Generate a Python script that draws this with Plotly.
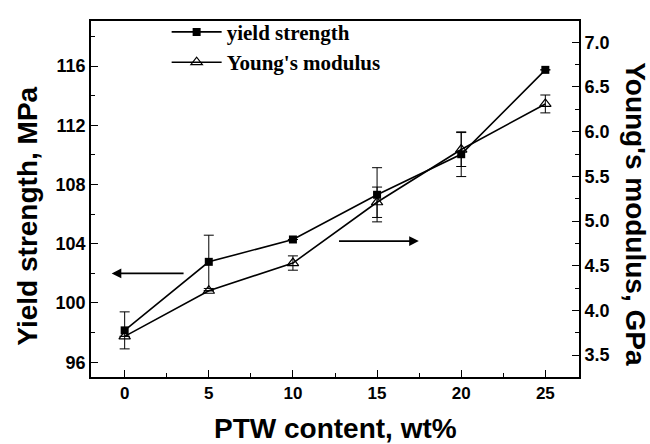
import plotly.graph_objects as go

# ---- data ----
ptw_content = [0, 5, 10, 15, 20, 25]
yield_strength = [98.15, 102.78, 104.29, 107.31, 110.05, 115.75]
yield_err = [1.25, 1.8, None, 1.83, 1.51, None]
youngs_modulus = [3.71, 4.22, 4.53, 5.21, 5.80, 6.31]
youngs_err = [None, None, 0.08, 0.17, 0.19, 0.10]

x_ticks = [0, 5, 10, 15, 20, 25]
left_ticks = [96, 100, 104, 108, 112, 116]
right_ticks = [3.5, 4.0, 4.5, 5.0, 5.5, 6.0, 6.5, 7.0]

SANS = "Liberation Sans"
SERIF = "Liberation Serif"

fig = go.Figure()
fig.add_trace(go.Scatter(
    x=ptw_content, y=yield_strength, name="yield strength",
    mode="lines+markers",
    line=dict(color="black", width=1.6),
    marker=dict(symbol="square", size=8, color="black"),
    error_y=dict(type="data", array=yield_err, visible=True, color="black", thickness=1, width=5),
    legendgroup="a", yaxis="y",
))
fig.add_trace(go.Scatter(
    x=ptw_content, y=youngs_modulus, name="Young's modulus",
    mode="lines+markers",
    line=dict(color="black", width=1.6),
    marker=dict(symbol="triangle-up-open", size=10, color="black", line=dict(width=1.2, color="black")),
    error_y=dict(type="data", array=youngs_err, visible=True, color="black", thickness=1, width=5),
    legendgroup="b", yaxis="y2",
))

xtickfont = dict(family=SANS, size=17, color="black", weight="bold")
ytickfont = dict(family=SANS, size=18, color="black", weight="bold")

fig.update_layout(
    width=650, height=444,
    margin=dict(l=91, r=71, t=14, b=67),
    paper_bgcolor="white", plot_bgcolor="white",
    showlegend=True,
    legend=dict(
        x=0.155, y=1.026, xanchor="left", yanchor="top",
        bgcolor="rgba(0,0,0,0)", borderwidth=0,
        font=dict(family=SERIF, size=21, color="black", weight="bold"),
        traceorder="grouped", tracegroupgap=0, itemwidth=50,
    ),
    xaxis=dict(
        range=[-2, 27], tickmode="array", tickvals=x_ticks,
        ticks="inside", ticklen=7, tickwidth=1.3, tickcolor="black",
        showline=True, linecolor="black", linewidth=1.6, mirror=True,
        showgrid=False, zeroline=False, tickfont=xtickfont,
        minor=dict(tickmode="array", tickvals=[2.5, 7.5, 12.5, 17.5, 22.5], ticks="inside", ticklen=4, tickwidth=1.3, tickcolor="black", showgrid=False),
    ),
    yaxis=dict(
        range=[95.0, 119.05], tickmode="array", tickvals=left_ticks,
        ticks="inside", ticklen=7, tickwidth=1.3, tickcolor="black",
        showline=True, linecolor="black", linewidth=1.6,
        showgrid=False, zeroline=False, tickfont=ytickfont,
        minor=dict(tickmode="array", tickvals=[98, 102, 106, 110, 114, 118], ticks="inside", ticklen=4, tickwidth=1.3, tickcolor="black", showgrid=False),
    ),
    yaxis2=dict(
        range=[3.255, 7.238], tickmode="array", tickvals=right_ticks,
        tickformat=".1f", overlaying="y", side="right",
        ticks="inside", ticklen=7, tickwidth=1.3, tickcolor="black",
        showline=True, linecolor="black", linewidth=1.6,
        showgrid=False, zeroline=False, tickfont=ytickfont,
        minor=dict(tickmode="array", tickvals=[3.75, 4.25, 4.75, 5.25, 5.75, 6.25, 6.75], ticks="inside", ticklen=4, tickwidth=1.3, tickcolor="black", showgrid=False),
    ),
)

titlefont = dict(family=SANS, size=28, color="black", weight="bold")
fig.add_annotation(text="Yield strength, MPa", xref="paper", yref="paper",
                   x=-0.13, y=0.452, xanchor="center", yanchor="middle",
                   textangle=-90, showarrow=False, font=titlefont)
fig.add_annotation(text="Young's modulus, GPa", xref="paper", yref="paper",
                   x=1.117, y=0.457, xanchor="center", yanchor="middle",
                   textangle=90, showarrow=False, font=titlefont)
fig.add_annotation(text="PTW content, wt%", xref="paper", yref="paper",
                   x=0.5, y=-0.146, xanchor="center", yanchor="middle",
                   showarrow=False, font=titlefont)

# direction arrows
fig.add_annotation(x=-0.77, y=102.0, ax=3.59, ay=102.0, xref="x", yref="y", axref="x", ayref="y",
                   showarrow=True, arrowhead=2, arrowsize=1.2, arrowwidth=1.6, arrowcolor="black", text="")
fig.add_annotation(x=17.48, y=104.18, ax=12.65, ay=104.18, xref="x", yref="y", axref="x", ayref="y",
                   showarrow=True, arrowhead=2, arrowsize=1.2, arrowwidth=1.6, arrowcolor="black", text="")

fig.write_html("out.html")
